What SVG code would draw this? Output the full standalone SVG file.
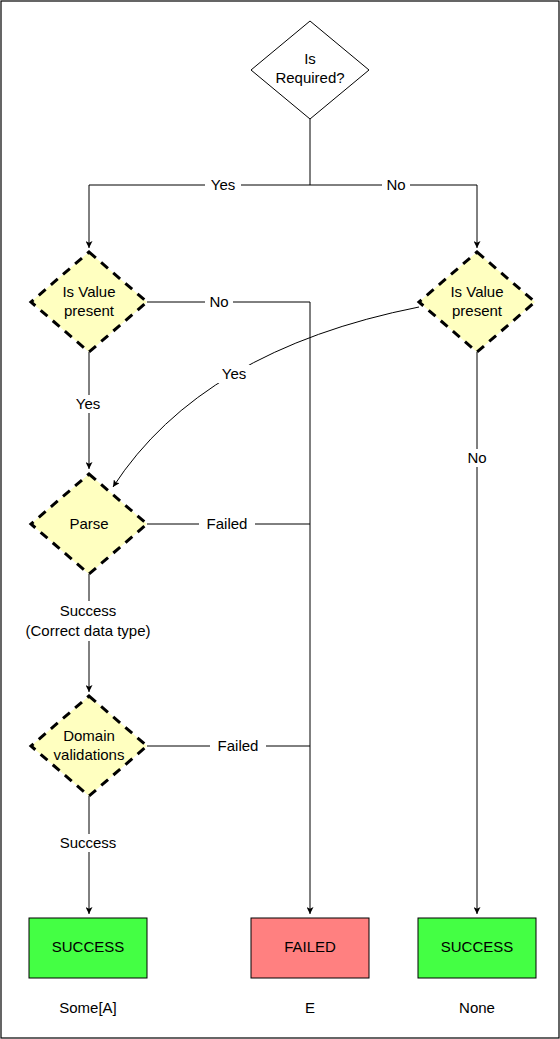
<svg xmlns="http://www.w3.org/2000/svg" width="560" height="1039" viewBox="0 0 560 1039">
  <style>
    text { font-family: "Liberation Sans", Arial, sans-serif; font-size: 15px; fill: #000; text-anchor: middle; }
    .edge { fill: none; stroke: #000; stroke-width: 1; }
    .decision { fill: #FFFFC0; stroke: #000; stroke-width: 3; stroke-dasharray: 9 7; }
    .start { fill: #fff; stroke: #000; stroke-width: 1; }
    .ok { fill: #44FF44; stroke: #000; stroke-width: 1; }
    .ko { fill: #FF8080; stroke: #000; stroke-width: 1; }
    .lbl { fill: #fff; }
  </style>
  <defs>
    <marker id="arrow" viewBox="0 0 10 10" refX="10" refY="5" markerWidth="7" markerHeight="7" markerUnits="userSpaceOnUse" orient="auto">
      <path d="M0,0 L10,5 L0,10 L2.5,5 Z" fill="#000"/>
    </marker>
  </defs>

  <rect x="1" y="1" width="558" height="1037" fill="#fff" stroke="#000" stroke-width="1.2"/>

  <!-- connectors -->
  <g id="edges">
    <path class="edge" d="M310,119 V185 H89 V248" marker-end="url(#arrow)"/>
    <path class="edge" d="M310,185 H477 V248" marker-end="url(#arrow)"/>
    <path class="edge" d="M147,302 H310 V914" marker-end="url(#arrow)"/>
    <path class="edge" d="M89,352 V469" marker-end="url(#arrow)"/>
    <path class="edge" d="M419,307 Q202,350 113,487" marker-end="url(#arrow)"/>
    <path class="edge" d="M147,524 H310"/>
    <path class="edge" d="M89,574 V692" marker-end="url(#arrow)"/>
    <path class="edge" d="M147,746 H310"/>
    <path class="edge" d="M89,796 V914" marker-end="url(#arrow)"/>
    <path class="edge" d="M477,352 V914" marker-end="url(#arrow)"/>

    <!-- edge labels -->
    <rect class="lbl" x="205" y="176" width="36" height="18"/>
    <text x="223" y="190">Yes</text>
    <rect class="lbl" x="382" y="176" width="28" height="18"/>
    <text x="396" y="190">No</text>
    <rect class="lbl" x="205" y="293" width="28" height="18"/>
    <text x="219" y="307">No</text>
    <rect class="lbl" x="68" y="395" width="40" height="18"/>
    <text x="88" y="409">Yes</text>
    <rect class="lbl" x="215" y="365" width="38" height="18"/>
    <text x="234" y="379">Yes</text>
    <rect class="lbl" x="461" y="449" width="32" height="18"/>
    <text x="477" y="463">No</text>
    <rect class="lbl" x="199" y="515" width="56" height="18"/>
    <text x="227" y="529">Failed</text>
    <rect class="lbl" x="16" y="601" width="146" height="40"/>
    <text x="88" y="616">Success</text>
    <text x="88" y="636">(Correct data type)</text>
    <rect class="lbl" x="210" y="737" width="56" height="18"/>
    <text x="238" y="751">Failed</text>
    <rect class="lbl" x="52" y="834" width="72" height="18"/>
    <text x="88" y="848">Success</text>
  </g>

  <g id="is-required">
    <polygon class="start" points="310,21 369,70 310,119 251,70"/>
    <text x="310" y="64">Is</text>
    <text x="310" y="83">Required?</text>
  </g>

  <g id="value-present-required">
    <polygon class="decision" points="89,252 147,302 89,352 31,302"/>
    <text x="89" y="297">Is Value</text>
    <text x="89" y="316">present</text>
  </g>

  <g id="value-present-optional">
    <polygon class="decision" points="477,252 535,302 477,352 419,302"/>
    <text x="477" y="297">Is Value</text>
    <text x="477" y="316">present</text>
  </g>

  <g id="parse">
    <polygon class="decision" points="89,474 147,524 89,574 31,524"/>
    <text x="89" y="529">Parse</text>
  </g>

  <g id="domain-validations">
    <polygon class="decision" points="89,696 147,746 89,796 31,746"/>
    <text x="89" y="741">Domain</text>
    <text x="89" y="760">validations</text>
  </g>

  <g id="success-some">
    <rect class="ok" x="29" y="918" width="118" height="60"/>
    <text x="88" y="952">SUCCESS</text>
    <text x="88" y="1013">Some[A]</text>
  </g>

  <g id="failed">
    <rect class="ko" x="251" y="918" width="118" height="60"/>
    <text x="310" y="952">FAILED</text>
    <text x="310" y="1013">E</text>
  </g>

  <g id="success-none">
    <rect class="ok" x="418" y="918" width="118" height="60"/>
    <text x="477" y="952">SUCCESS</text>
    <text x="477" y="1013">None</text>
  </g>
</svg>
